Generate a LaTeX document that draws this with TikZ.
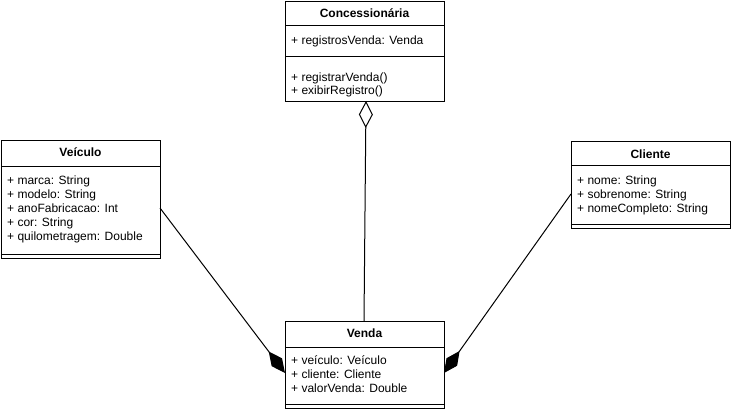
\documentclass[tikz,border=0pt]{standalone}
\usepackage{fontspec}
\setmainfont{Liberation Sans}
\usetikzlibrary{arrows.meta}
\begin{document}
\begin{tikzpicture}[x=1pt,y=-1pt,
  umlbox/.style={draw, line width=1pt, anchor=north west, inner sep=0pt, minimum width=159pt},
  divider/.style={line width=1pt},
  ttl/.style={font=\fontsize{12}{14}\selectfont\bfseries, inner sep=0pt, anchor=base},
  attr/.style={font=\fontsize{12}{14}\selectfont, inner sep=0pt, anchor=base west},
  conn/.style={line width=1pt},
  aggr/.style={conn, {Diamond[open, length=27pt, width=14pt, line width=1pt]}-},
  comp/.style={conn, -{Diamond[length=27pt, width=13pt]}}]
\useasboundingbox (0,0) rectangle (731,409);
% Concessionaria
\node[umlbox, minimum height=100pt] (conc) at (285,1) {};
\draw[divider] (285,26) -- (444,26);
\draw[divider] (285,57) -- (444,57);
\node[ttl] (concT) at (364.5,18) {Concessionária};
\node[attr] (conc1) at (291,45) {+ registrosVenda: Venda};
\node[attr] (conc2) at (291,82) {+ registrarVenda()};
\node[attr] (conc3) at (291,95) {+ exibirRegistro()};
% Veiculo
\node[umlbox, minimum height=118pt] (vei) at (1,140) {};
\draw[divider] (1,167) -- (160,167);
\draw[divider] (1,254) -- (160,254);
\node[ttl] (veiT) at (80.5,157) {Veículo};
\node[attr] (vei1) at (7,184) {+ marca: String};
\node[attr] (vei2) at (7,198) {+ modelo: String};
\node[attr] (vei3) at (7,212) {+ anoFabricacao: Int};
\node[attr] (vei4) at (7,226) {+ cor: String};
\node[attr] (vei5) at (7,240) {+ quilometragem: Double};
% Cliente
\node[umlbox, minimum height=87pt] (cli) at (571,141) {};
\draw[divider] (571,166) -- (730,166);
\draw[divider] (571,224) -- (730,224);
\node[ttl] (cliT) at (650.5,158) {Cliente};
\node[attr] (cli1) at (577,185) {+ nome: String};
\node[attr] (cli2) at (577,198) {+ sobrenome: String};
\node[attr] (cli3) at (577,212) {+ nomeCompleto: String};
% Venda
\node[umlbox, minimum height=87pt] (ven) at (285,321) {};
\draw[divider] (285,347) -- (444,347);
\draw[divider] (285,404) -- (444,404);
\node[ttl] (venT) at (364.5,337) {Venda};
\node[attr] (ven1) at (291,364) {+ veículo: Veículo};
\node[attr] (ven2) at (291,378) {+ cliente: Cliente};
\node[attr] (ven3) at (291,392) {+ valorVenda: Double};
% connector end points
\coordinate (cA) at (366,101);
\coordinate (vA) at (364,321);
\coordinate (veiE) at (160,208);
\coordinate (venL) at (285,373);
\coordinate (cliW) at (571,194);
\coordinate (venR) at (444,373);
\draw[aggr] (cA) -- (vA);
\draw[comp] (veiE) -- (venL);
\draw[comp] (cliW) -- (venR);
\end{tikzpicture}
\end{document}
